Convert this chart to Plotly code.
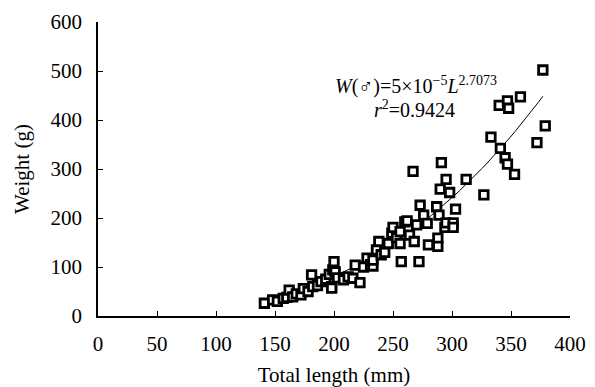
import plotly.graph_objects as go

# Total length (mm) and weight (g) of males
length_mm = [141, 148, 152, 157, 160, 162, 165, 168, 172, 174, 178, 181, 182, 186, 189,
             193, 196, 198, 198, 199, 200, 201, 203, 208, 212, 216, 218, 222, 225, 228,
             231, 233, 233, 236, 238, 240, 243, 246, 249, 250, 253, 256, 256, 257, 260,
             262, 264, 267, 268, 270, 272, 273, 276, 279, 280, 287, 288, 288, 289, 290,
             291, 294, 295, 295, 298, 301, 301, 303, 312, 327, 333, 340, 341, 345, 347,
             347, 348, 353, 358, 372, 377, 379]
weight_g = [26, 33, 30, 36, 38, 53, 39, 45, 43, 56, 50, 84, 60, 62, 70,
            75, 85, 60, 57, 94, 111, 90, 78, 74, 80, 77, 104, 68, 100, 118,
            105, 102, 114, 135, 152, 125, 130, 148, 169, 181, 160, 172, 148, 111, 192,
            194, 165, 295, 152, 186, 111, 226, 206, 189, 145, 223, 159, 142, 206, 259,
            313, 181, 279, 190, 252, 190, 181, 218, 279, 247, 365, 430, 342, 323, 439,
            310, 424, 289, 447, 354, 502, 388]

# Power fit W = a * L^b (trend line as drawn)
fit_a = 4.75e-5
fit_b = 2.7073
fit_L = [141 + i * (377 - 141) / 60 for i in range(61)]
fit_W = [fit_a * L ** fit_b for L in fit_L]

x_ticks = [0, 50, 100, 150, 200, 250, 300, 350, 400]
y_ticks = [0, 100, 200, 300, 400, 500, 600]

FONT = "Liberation Serif, Times New Roman, serif"

fig = go.Figure()
fig.add_trace(go.Scatter(
    x=fit_L, y=fit_W, mode="lines",
    line=dict(color="black", width=1), showlegend=False, hoverinfo="skip"))
fig.add_trace(go.Scatter(
    x=length_mm, y=weight_g, mode="markers",
    marker=dict(symbol="square", size=8.5, color="white",
                line=dict(color="black", width=2.8)),
    showlegend=False))

fig.add_annotation(x=269.7, y=471, xref="x", yref="y", showarrow=False,
                   xanchor="center", yanchor="middle",
                   text="<i>W</i>(♂)=5×10<sup>−5</sup><i>L</i><sup>2.7073</sup>",
                   font=dict(family=FONT, size=20, color="black"))
fig.add_annotation(x=268, y=423, xref="x", yref="y", showarrow=False,
                   xanchor="center", yanchor="middle",
                   text="<i>r</i><sup>2</sup>=0.9424",
                   font=dict(family=FONT, size=20, color="black"))

fig.update_layout(
    width=595, height=387,
    margin=dict(l=98, r=25, t=22, b=71),
    paper_bgcolor="white", plot_bgcolor="white",
    font=dict(family=FONT, size=21, color="black"),
    xaxis=dict(range=[0, 400], tickvals=x_ticks, ticks="inside", ticklen=5,
               tickwidth=1.3, tickcolor="black", showline=True, linecolor="black",
               linewidth=1.5, showgrid=False, zeroline=False, automargin=False,
               title=dict(text="Total length (mm)", font=dict(size=21)),
               tickfont=dict(size=21), ticklabelstandoff=8),
    yaxis=dict(range=[0, 600], tickvals=y_ticks, ticks="inside", ticklen=5,
               tickwidth=1.3, tickcolor="black", showline=True, linecolor="black",
               linewidth=1.5, showgrid=False, zeroline=False, automargin=False,
               title=dict(text="Weight (g)", font=dict(size=21)),
               tickfont=dict(size=21), ticklabelstandoff=10),
)

fig.write_html("out.html",
               config={"displayModeBar": False},
               post_script="document.body.style.margin='0';document.body.style.overflow='hidden';")
